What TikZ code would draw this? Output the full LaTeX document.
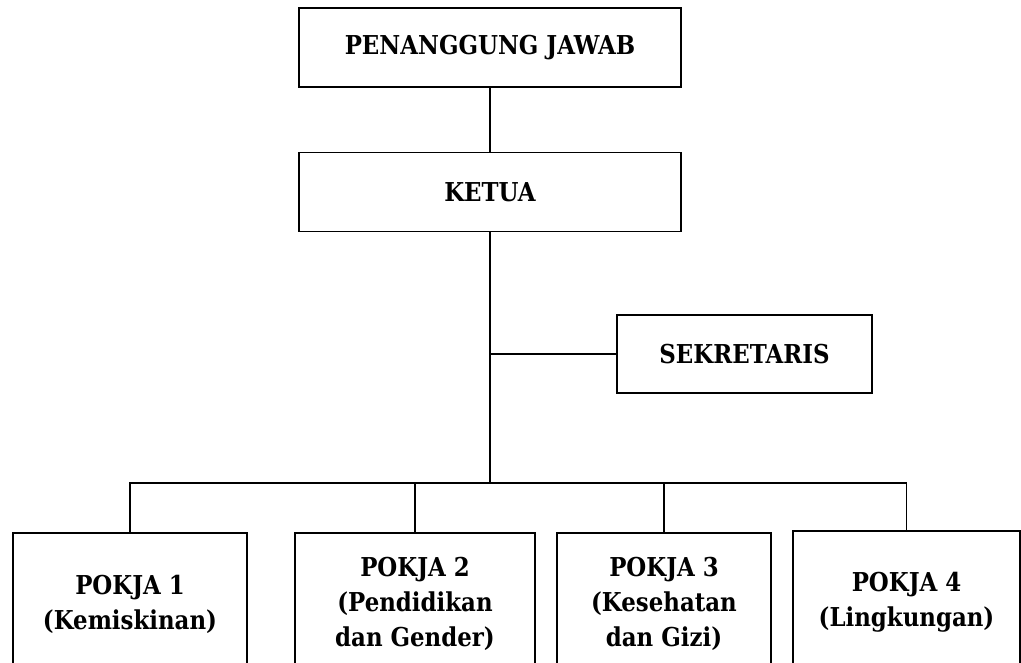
\documentclass[tikz,border=0pt]{standalone}
\usepackage{fontspec}
\setmainfont{DejaVu Serif}[FakeStretch=0.88]
\usepackage{tikz}
\tikzset{
  unit/.style  = {shape=rectangle, draw, line width=1.5pt, align=center,
          font=\bfseries\fontsize{26}{35}\selectfont, inner sep=0pt},
  pimpin/.style = {unit, minimum width=382pt, minimum height=79pt},
  sek/.style    = {unit, minimum width=255pt, minimum height=78pt},
  pokja/.style  = {unit, minimum height=142pt}
}
\begin{document}
\begin{tikzpicture}
  [
    x = 1pt,
    y = -1pt,
    line width = 1.5pt
  ]
  \useasboundingbox (0,0) rectangle (1021,663);
  \clip (0,0) rectangle (1021,663);
  % pimpinan
  \node [pimpin] (pj)    at (490,47.5) {PENANGGUNG JAWAB};
  \node [pimpin] (ketua) at (490,192)  {KETUA};
  \node [sek]    (sekr)  at (744.5,354) {SEKRETARIS};
  % pokja
  \node [pokja, minimum width=234pt] (p1) at (130,604) {POKJA 1\\(Kemiskinan)};
  \node [pokja, minimum width=240pt] (p2) at (415,604) {POKJA 2\\(Pendidikan\\dan Gender)};
  \node [pokja, minimum width=214pt] (p3) at (664,604) {POKJA 3\\(Kesehatan\\dan Gizi)};
  \node [pokja, minimum width=227pt] (p4) at (906.5,602) {POKJA 4\\(Lingkungan)};
  \coordinate (bar) at (490,483);
  % garis
  \draw (pj.south) -- (ketua.north);
  \draw (ketua.south) -- (bar);
  \draw (sekr.west) -- (sekr.west -| ketua.south);
  \draw (p1.north) -- (p1.north |- bar) -- (p4.north |- bar) -- (p4.north);
  \draw (p2.north) -- (p2.north |- bar);
  \draw (p3.north) -- (p3.north |- bar);
\end{tikzpicture}
\end{document}
